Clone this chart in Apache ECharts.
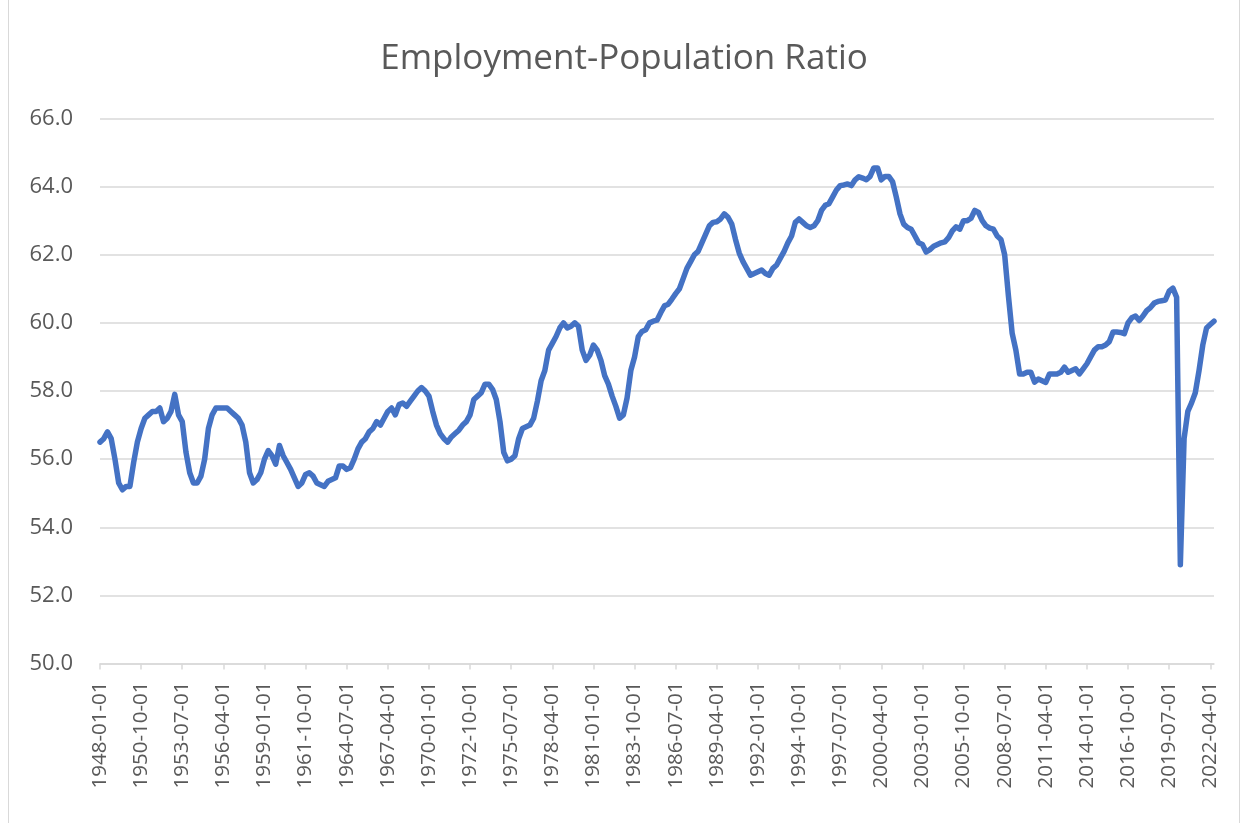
<!DOCTYPE html>
<html>
<head>
<meta charset="utf-8">
<title>Employment-Population Ratio</title>
<script src="https://cdn.jsdelivr.net/npm/echarts@6/dist/echarts.min.js"></script>
<style>
  html, body { margin: 0; padding: 0; background: #fff; }
  #frame { position: relative; width: 1248px; height: 823px; }
  #frame::before { content: ''; position: absolute; left: 8px; right: 8px; top: 0; bottom: 0;
    border-left: 1px solid #d9d9d9; border-right: 1px solid #d9d9d9; pointer-events: none; z-index: 1; }
  #chart { width: 1248px; height: 823px; }
</style>
</head>
<body>
<div id="frame"><div id="chart"></div></div>
<script>
// quarterly values (first quarter of 1948 onwards)
const ratio1940s = [
  56.5, 56.6, 56.8, 56.6,
  56.0, 55.3, 55.1, 55.2
]
const ratio1950s = [
  55.2, 55.9, 56.5, 56.9,
  57.2, 57.3, 57.4, 57.4,
  57.5, 57.1, 57.2, 57.4,
  57.9, 57.3, 57.1, 56.2,
  55.6, 55.3, 55.3, 55.5,
  56.0, 56.9, 57.3, 57.5,
  57.5, 57.5, 57.5, 57.4,
  57.3, 57.2, 57.0, 56.5,
  55.6, 55.3, 55.4, 55.6,
  56.0, 56.25, 56.1, 55.85
]
const ratio1960s = [
  56.4, 56.1, 55.9, 55.7,
  55.45, 55.2, 55.3, 55.55,
  55.6, 55.5, 55.3, 55.25,
  55.2, 55.35, 55.4, 55.45,
  55.8, 55.8, 55.7, 55.75,
  56.0, 56.3, 56.5, 56.6,
  56.8, 56.9, 57.1, 57.0,
  57.2, 57.4, 57.5, 57.3,
  57.6, 57.65, 57.55, 57.7,
  57.85, 58.0, 58.1, 58.0
]
const ratio1970s = [
  57.85, 57.4, 57.0, 56.75,
  56.6, 56.5, 56.65, 56.75,
  56.85, 57.0, 57.1, 57.3,
  57.75, 57.85, 57.95, 58.2,
  58.2, 58.05, 57.75, 57.1,
  56.2, 55.95, 56.0, 56.1,
  56.6, 56.9, 56.95, 57.0,
  57.2, 57.7, 58.3, 58.6,
  59.2, 59.4, 59.6, 59.85,
  60.0, 59.85, 59.9, 60.0
]
const ratio1980s = [
  59.9, 59.2, 58.9, 59.05,
  59.35, 59.2, 58.9, 58.45,
  58.2, 57.85, 57.55, 57.2,
  57.3, 57.8, 58.6, 59.0,
  59.6, 59.75, 59.8, 60.0,
  60.05, 60.08, 60.3, 60.5,
  60.55, 60.7, 60.86, 61.0,
  61.3, 61.6, 61.8, 62.0,
  62.1, 62.35, 62.6, 62.85,
  62.95, 62.97, 63.05, 63.2
]
const ratio1990s = [
  63.1, 62.9, 62.45, 62.05,
  61.8, 61.6, 61.4, 61.45,
  61.5, 61.55, 61.45, 61.4,
  61.6, 61.7, 61.9, 62.1,
  62.35, 62.55, 62.95, 63.05,
  62.95, 62.85, 62.8, 62.85,
  63.0, 63.3, 63.45, 63.5,
  63.7, 63.9, 64.03, 64.05,
  64.08, 64.03, 64.2, 64.29,
  64.25, 64.2, 64.3, 64.55
]
const ratio2000s = [
  64.55, 64.2, 64.3, 64.3,
  64.15, 63.7, 63.2, 62.9,
  62.8, 62.75, 62.55, 62.35,
  62.3, 62.08, 62.15, 62.25,
  62.3, 62.35, 62.38, 62.5,
  62.7, 62.82, 62.75, 63.0,
  63.0, 63.07, 63.3, 63.24,
  63.0, 62.85, 62.78, 62.75,
  62.55, 62.45, 62.0, 60.8,
  59.7, 59.2, 58.5, 58.5
]
const ratio2010s = [
  58.55, 58.55, 58.26, 58.35,
  58.3, 58.25, 58.5, 58.5,
  58.5, 58.55, 58.7, 58.55,
  58.6, 58.65, 58.5, 58.65,
  58.8, 59.0, 59.2, 59.3,
  59.3, 59.35, 59.45, 59.73,
  59.73, 59.72, 59.68, 60.0,
  60.15, 60.2, 60.07, 60.2,
  60.36, 60.45, 60.58, 60.63,
  60.65, 60.67, 60.93, 61.02
]
const ratio2020s = [
  60.75, 52.9, 56.6, 57.4,
  57.65, 57.95, 58.6, 59.35,
  59.85, 59.95, 60.05
]

const ratioValues = [].concat(ratio1940s, ratio1950s, ratio1960s, ratio1970s,
  ratio1980s, ratio1990s, ratio2000s, ratio2010s, ratio2020s)

// category labels: first day of each quarter
const startYear = 1948
const quarterMonths = ['01', '04', '07', '10']
const quarterDates = ratioValues.map((v, i) =>
  `${startYear + Math.floor(i / 4)}-${quarterMonths[i % 4]}-01`)

const yTicks = { min: 50, max: 66, step: 2 }

const textColor = '#595959'
const gridColor = '#d9d9d9'
const lineColor = '#4472c4'
const fontFamily = '"Open Sans", "Noto Sans", sans-serif'

const chart = echarts.init(document.getElementById('chart'), null, { renderer: 'canvas' })

chart.setOption({
  backgroundColor: '#ffffff',
  animation: false,
  title: {
    text: 'Employment-Population Ratio',
    left: 'center',
    top: 37,
    textStyle: { color: textColor, fontFamily, fontSize: 35, fontWeight: 'normal' }
  },
  grid: {
    left: 100,
    right: 34,
    top: 118.5,
    bottom: 159.5,
    containLabel: false
  },
  xAxis: {
    type: 'category',
    data: quarterDates,
    boundaryGap: false,
    axisLine: { lineStyle: { color: gridColor, width: 1.5 } },
    axisTick: { interval: 10, length: 6, lineStyle: { color: gridColor, width: 1.5 } },
    axisLabel: {
      interval: 10,
      rotate: 90,
      margin: 18,
      color: textColor,
      fontFamily,
      fontSize: 20.5
    },
    splitLine: { show: false }
  },
  yAxis: {
    type: 'value',
    min: yTicks.min,
    max: yTicks.max,
    interval: yTicks.step,
    axisLine: { show: false },
    axisTick: { show: false },
    axisLabel: {
      color: textColor,
      fontFamily,
      fontSize: 22,
      margin: 27,
      formatter: v => v.toFixed(1)
    },
    splitLine: { lineStyle: { color: gridColor, width: 1.5 } }
  },
  series: [
    {
      type: 'line',
      data: ratioValues,
      showSymbol: false,
      smooth: false,
      lineStyle: { color: lineColor, width: 5.5, cap: 'round', join: 'round' },
      itemStyle: { color: lineColor }
    }
  ]
})
</script>
</body>
</html>
